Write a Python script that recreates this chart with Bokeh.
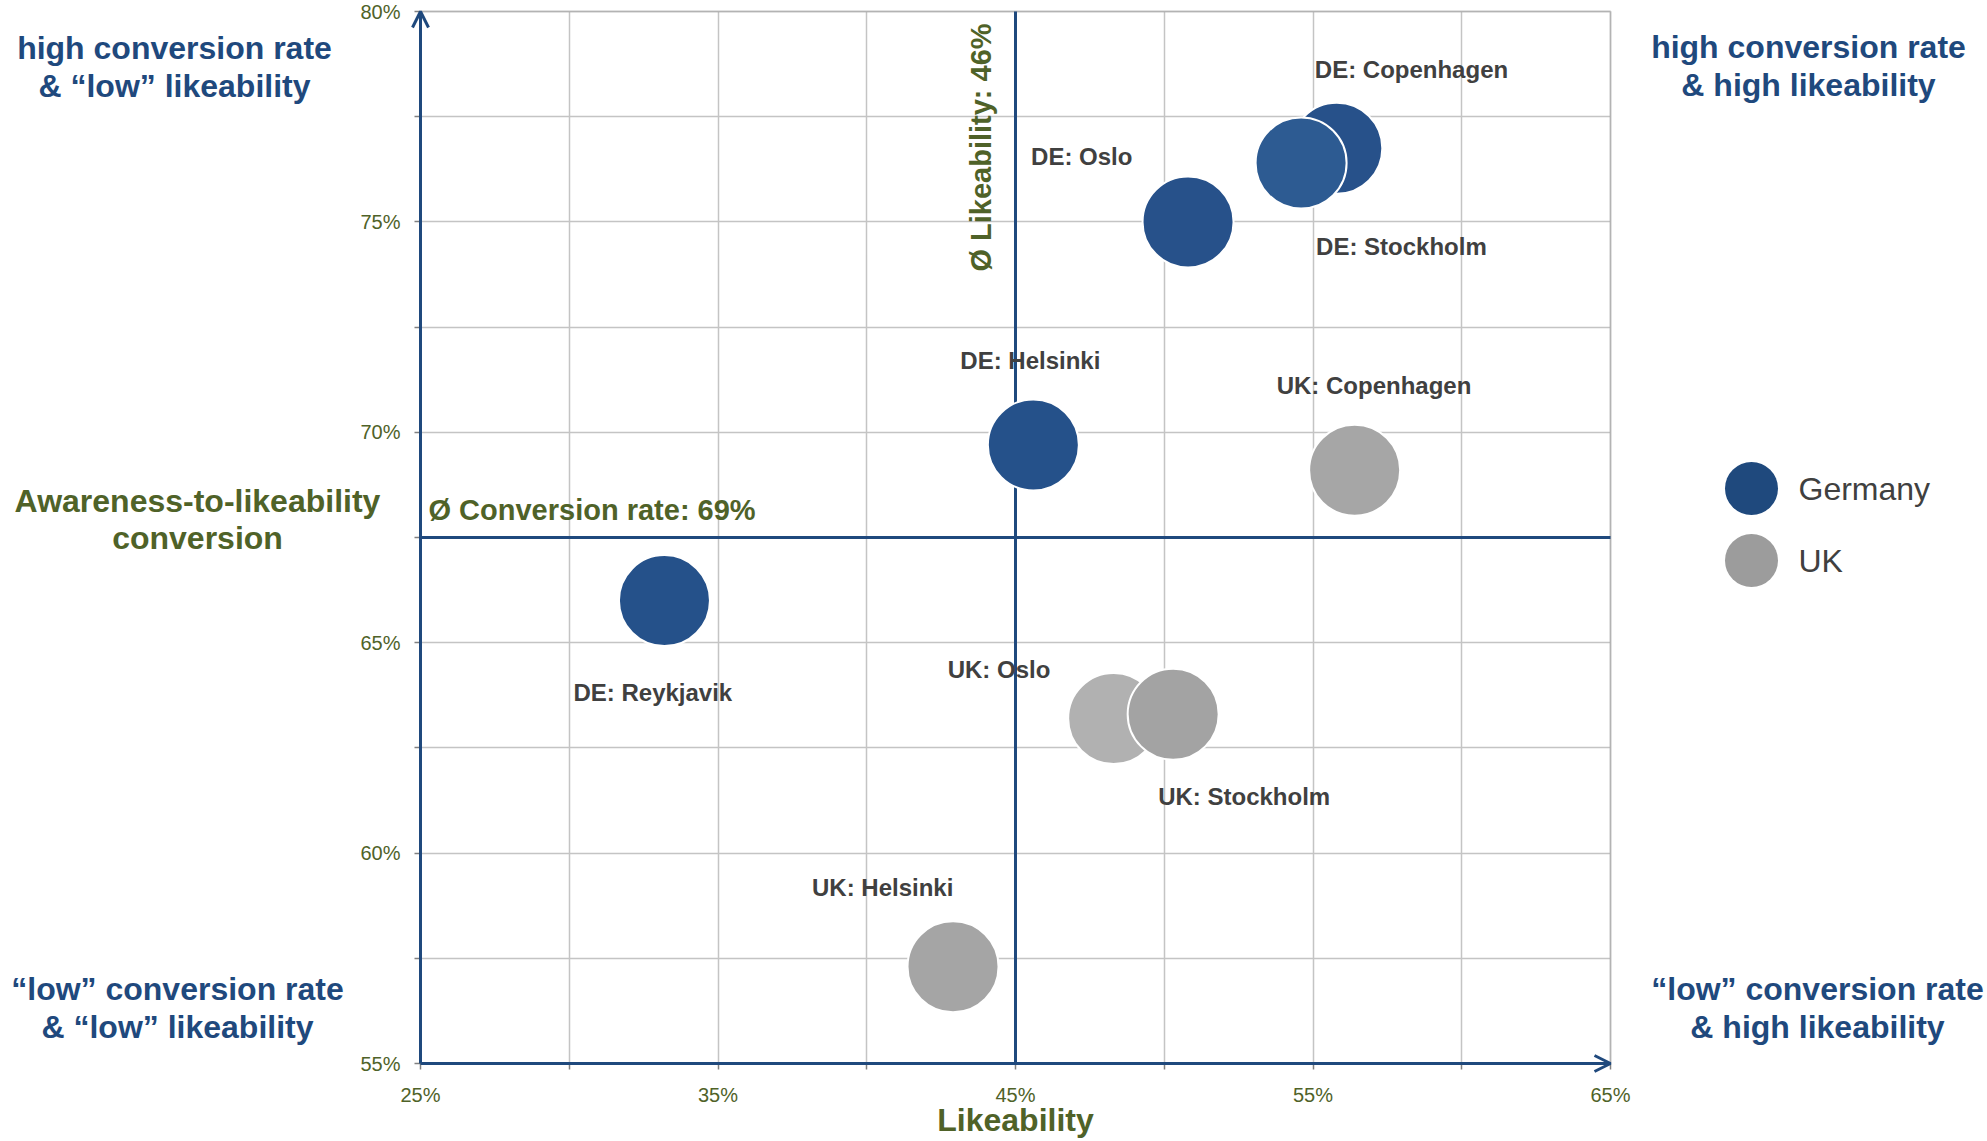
from math import pi
from bokeh.plotting import figure
from bokeh.models import (ColumnDataSource, Range1d, FixedTicker, PrintfTickFormatter,
                          Label, Arrow, OpenHead, BoxAnnotation)
from bokeh.core.properties import value
from bokeh.embed import file_html
from bokeh.resources import INLINE

# ---------------- data ----------------
de_cities = ["Copenhagen", "Oslo", "Stockholm", "Helsinki", "Reykjavik"]
de_likeability = [55.8, 50.8, 54.6, 45.6, 33.2]
de_conversion = [76.75, 75.0, 76.4, 69.7, 66.0]

uk_cities = ["Copenhagen", "Oslo", "Stockholm", "Helsinki"]
uk_likeability = [56.4, 48.3, 50.3, 42.9]
uk_conversion = [69.1, 63.2, 63.3, 57.3]

series_names = ["Germany", "UK"]
avg_likeability = 45.0
avg_conversion = 67.5
avg_likeability_text = "Ø Likeability: 46%"
avg_conversion_text = "Ø Conversion rate: 69%"

x_major_ticks = [25, 35, 45, 55, 65]
x_minor_ticks = [30, 40, 50, 60]
y_major_ticks = [55, 60, 65, 70, 75, 80]
y_minor_ticks = [57.5, 62.5, 67.5, 72.5, 77.5]

x_title = "Likeability"
y_title_lines = ["Awareness-to-likeability", "conversion"]
corner_tl = ["high conversion rate", "& \u201clow\u201d likeability"]
corner_tr = ["high conversion rate", "& high likeability"]
corner_bl = ["\u201clow\u201d conversion rate", "& \u201clow\u201d likeability"]
corner_br = ["\u201clow\u201d conversion rate", "& high likeability"]

# ---------------- styles / layout ----------------
BLUE = "#1f497d"
GREEN = "#4f6228"
LEG_UK = "#9c9c9c"
LABEL_GREY = "#404040"
FONT = "Liberation Sans"
de_fills = ["#27518a", "#27518a", "#2d5b92", "#25518a", "#25518a"]
uk_fills = ["#a6a6a6", "#b1b1b1", "#a3a3a3", "#a5a5a5"]

W, H = 1987, 1141
PX_X0, PX_X1 = 420, 1610      # canvas x of first / last x tick
PX_Y1, PX_Y0 = 11, 1063       # canvas y of top / bottom y tick

de_label_dx = [-22, -157, 15, -73, -91]
de_label_dy = [-79, -65, 84, -84, 92]
uk_label_dx = [-78, -166, -15, -141]
uk_label_dy = [-85, -49, 82, -79]

X0, X1 = x_major_ticks[0], x_major_ticks[-1]
Y0, Y1 = y_major_ticks[0], y_major_ticks[-1]
SX = (PX_X1 - PX_X0) / (X1 - X0)
SY = (PX_Y0 - PX_Y1) / (Y1 - Y0)


def cx(px):
    return X0 + (px - PX_X0) / SX


def cy(py):
    return Y0 + (PX_Y0 - py) / SY


p = figure(width=W, height=H, x_range=Range1d(cx(0), cx(W)), y_range=Range1d(cy(H), cy(0)),
           output_backend="svg", toolbar_location=None,
           min_border_left=0, min_border_right=0, min_border_top=0, min_border_bottom=0)
p.background_fill_color = "white"
p.border_fill_color = "white"
p.outline_line_color = None

p.xaxis.ticker = FixedTicker(ticks=x_major_ticks, minor_ticks=x_minor_ticks)
p.yaxis.ticker = FixedTicker(ticks=y_major_ticks, minor_ticks=y_minor_ticks)
p.xaxis.fixed_location = Y0
p.yaxis.fixed_location = X0
p.xaxis.bounds = (X0, X1)
p.yaxis.bounds = (Y0, Y1)
for ax in (p.xaxis, p.yaxis):
    ax.formatter = PrintfTickFormatter(format="%d%%")
    ax.major_label_text_font = FONT
    ax.major_label_text_font_size = "20px"
    ax.major_label_text_color = GREEN
    ax.axis_line_color = "#808080"
    ax.axis_line_width = 2
    ax.major_tick_line_color = "#808080"
    ax.minor_tick_line_color = "#808080"
    ax.major_tick_line_width = 1.5
    ax.minor_tick_line_width = 1.5
    ax.major_tick_in = 0
    ax.major_tick_out = 6
    ax.minor_tick_in = 0
    ax.minor_tick_out = 6
p.xaxis.major_label_standoff = 14
p.yaxis.major_label_standoff = 14
p.xaxis.axis_label = x_title
p.xaxis.axis_label_text_font = FONT
p.xaxis.axis_label_text_font_style = "bold"
p.xaxis.axis_label_text_font_size = "32px"
p.xaxis.axis_label_text_color = GREEN
p.xaxis.axis_label_standoff = -7

p.xgrid.bounds = (X0, X1)
p.xgrid.cross_bounds = (Y0, Y1)
p.ygrid.bounds = (Y0, Y1)
p.ygrid.cross_bounds = (X0, X1)
for g in (p.xgrid, p.ygrid):
    g.grid_line_color = "#c4c4c4"
    g.grid_line_width = 1.5
    g.minor_grid_line_color = "#c4c4c4"
    g.minor_grid_line_width = 1.5

# plot border
p.add_layout(BoxAnnotation(left=X0, right=X1, bottom=Y0, top=Y1, fill_alpha=0,
                           line_color="#8c8c8c", line_width=2, level="underlay"))

# quadrant lines (under the bubbles)
p.add_layout(Arrow(start=None, end=None, x_start=avg_likeability, y_start=Y0,
                   x_end=avg_likeability, y_end=Y1, line_color=BLUE, line_width=3, level="underlay"))
p.add_layout(Arrow(start=None, end=None, x_start=X0, y_start=avg_conversion,
                   x_end=X1, y_end=avg_conversion, line_color=BLUE, line_width=3, level="underlay"))

# axis arrows
p.add_layout(Arrow(end=OpenHead(size=16, line_color=BLUE, line_width=3),
                   x_start=X0, y_start=Y0, x_end=X0, y_end=Y1, line_color=BLUE, line_width=3))
p.add_layout(Arrow(end=OpenHead(size=16, line_color=BLUE, line_width=3),
                   x_start=X0, y_start=Y0, x_end=X1, y_end=Y0, line_color=BLUE, line_width=3))

de_src = ColumnDataSource(dict(x=de_likeability, y=de_conversion, fill=de_fills,
                               label=["DE: " + c for c in de_cities], dx=de_label_dx, dy=de_label_dy))
uk_src = ColumnDataSource(dict(x=uk_likeability, y=uk_conversion, fill=uk_fills,
                               label=["UK: " + c for c in uk_cities], dx=uk_label_dx, dy=uk_label_dy))

for src in (de_src, uk_src):
    p.scatter("x", "y", source=src, size=91, fill_color="fill", line_color="white", line_width=2)
for src in (de_src, uk_src):
    p.text("x", "y", text="label", x_offset="dx", y_offset="dy", source=src,
           text_font=value(FONT), text_font_style="bold", text_font_size="24px",
           text_color=LABEL_GREY, text_align="left", text_baseline="middle")


def lab(text, x, y, color, size, dx=0, dy=0, style="bold", align="center", angle=0):
    p.add_layout(Label(x=x, y=y, x_offset=dx, y_offset=dy, text=text, angle=angle,
                       text_font=FONT, text_font_style=style, text_font_size=size,
                       text_color=color, text_align=align, text_baseline="middle"))


lab(avg_likeability_text, avg_likeability, Y1, GREEN, "29px", dx=-35, dy=-136, angle=pi / 2)
lab(avg_conversion_text, X0, avg_conversion, GREEN, "29px", dx=8, dy=28, align="left")

lab(y_title_lines[0], cx(197), cy(500), GREEN, "32px")
lab(y_title_lines[1], cx(197), cy(537), GREEN, "32px")

lab(corner_tl[0], cx(174), cy(47), BLUE, "32px")
lab(corner_tl[1], cx(174), cy(85), BLUE, "32px")
lab(corner_bl[0], cx(177), cy(988), BLUE, "32px")
lab(corner_bl[1], cx(177), cy(1026), BLUE, "32px")
lab(corner_tr[0], cx(1808), cy(46), BLUE, "32px")
lab(corner_tr[1], cx(1808), cy(84), BLUE, "32px")
lab(corner_br[0], cx(1817), cy(988), BLUE, "32px")
lab(corner_br[1], cx(1817), cy(1026), BLUE, "32px")

# legend
leg_y = [cy(488), cy(560)]
leg_src = ColumnDataSource(dict(x=[cx(1751)] * 2, y=leg_y, name=series_names, color=[BLUE, LEG_UK]))
p.scatter("x", "y", source=leg_src, size=53, fill_color="color", line_color=None)
p.text(x=cx(1798), y=leg_y, text=series_names, text_font=value(FONT), text_font_size="32px",
       text_color=LABEL_GREY, text_align="left", text_baseline="middle")

open("out.html", "w").write(file_html(p, INLINE))
